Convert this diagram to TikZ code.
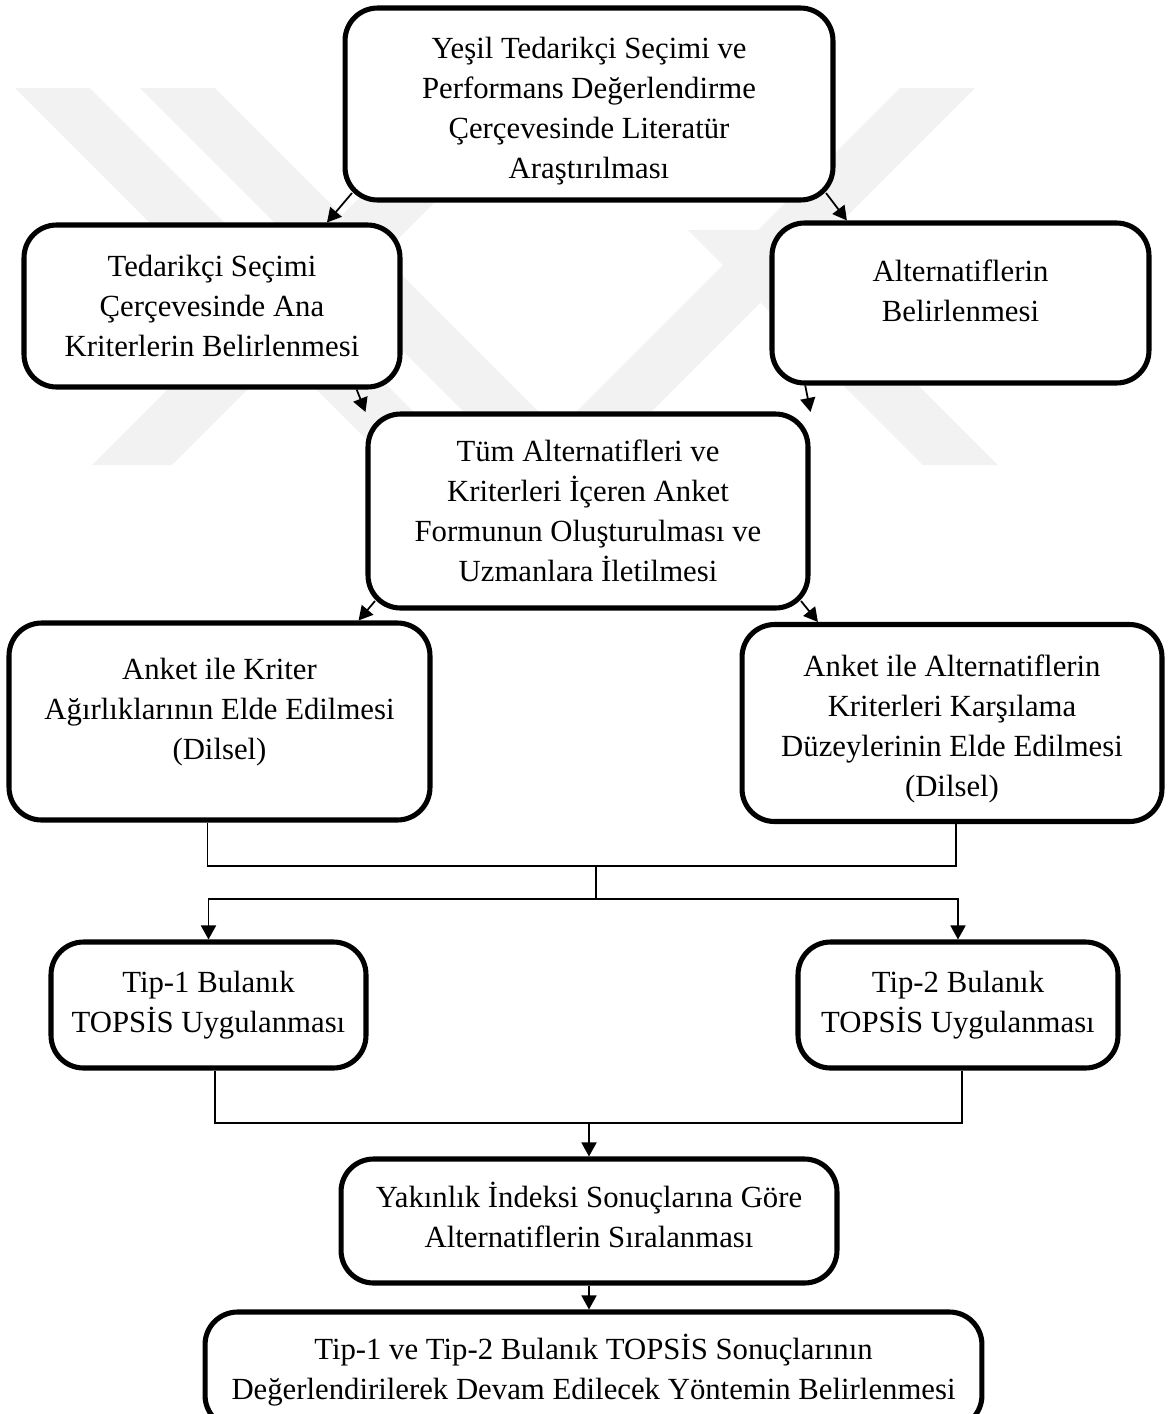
\documentclass[tikz,border=0pt]{standalone}
\usepackage{fontspec}
\setmainfont{Liberation Serif}
\usetikzlibrary{arrows.meta,calc}

\newcommand{\pad}[2]{\rule[-#1]{0pt}{#2}}

\begin{document}
\begin{tikzpicture}[x=0.02cm,y=-0.02cm,
  box/.style={draw,line width=2.9pt,rounded corners=0.65cm,align=center,inner sep=2pt,fill=white,font=\fontsize{17.5}{22.8}\selectfont},
  link/.style={line width=1pt},
  arr/.style={line width=1pt,-{Triangle[length=0.28cm,width=0.3cm]}},
  wm/.style={fill=black!5}]
  \useasboundingbox (0,0) rectangle (1171,1414);
  \begin{scope}
    \clip (0,88) rectangle (1171,465);
    \fill[wm] (15,88) -- (90,88) -- (467,465) -- (392,465) -- cycle;
    \fill[wm] (140,88) -- (215,88) -- (592,465) -- (517,465) -- cycle;
    \fill[wm] (469,88) -- (549,88) -- (172,465) -- (92,465) -- cycle;
    \fill[wm] (900,88) -- (975,88) -- (598,465) -- (523,465) -- cycle;
    \fill[wm] (688,230) -- (763,230) -- (998,465) -- (923,465) -- cycle;
  \end{scope}
  \node[box,minimum width=9.76cm,minimum height=3.84cm] (lit) at (589,104) {\pad{0cm}{0.71cm}Yeşil Tedarikçi Seçimi ve\\Performans Değerlendirme\\Çerçevesinde Literatür\\Araştırılması};
  \node[box,minimum width=7.52cm,minimum height=3.24cm] (crit) at (212,306) {Tedarikçi Seçimi\\Çerçevesinde Ana\\Kriterlerin Belirlenmesi};
  \node[box,minimum width=7.54cm,minimum height=3.2cm] (alt) at (960.5,303) {Alternatiflerin\\Belirlenmesi\\[-0.3cm]~};
  \node[box,minimum width=8.8cm,minimum height=3.88cm] (form) at (588,511) {Tüm Alternatifleri ve\\Kriterleri İçeren Anket\\Formunun Oluşturulması ve\\Uzmanlara İletilmesi};
  \node[box,minimum width=8.42cm,minimum height=3.94cm] (wgt) at (219.5,721.5) {Anket ile Kriter\\Ağırlıklarının Elde Edilmesi\\(Dilsel)\\[-0.3cm]~};
  \node[box,minimum width=8.4cm,minimum height=3.94cm] (lvl) at (952,723) {\pad{0cm}{0.67cm}Anket ile Alternatiflerin\\Kriterleri Karşılama\\Düzeylerinin Elde Edilmesi\\(Dilsel)};
  \node[box,minimum width=6.3cm,minimum height=2.52cm] (tip1) at (208.5,1005) {Tip-1 Bulanık\\TOPSİS Uygulanması};
  \node[box,minimum width=6.4cm,minimum height=2.52cm] (tip2) at (958,1005) {Tip-2 Bulanık\\TOPSİS Uygulanması};
  \node[box,minimum width=9.92cm,minimum height=2.48cm] (rank) at (589,1221) {Yakınlık İndeksi Sonuçlarına Göre\\Alternatiflerin Sıralanması\pad{0.24cm}{0cm}};
  \node[box,minimum width=15.54cm,minimum height=2.32cm] (final) at (593.5,1370) {Tip-1 ve Tip-2 Bulanık TOPSİS Sonuçlarının\\Değerlendirilerek Devam Edilecek Yöntemin Belirlenmesi};
  \coordinate (j1) at (596,866);
  \coordinate (j2) at (596,899);
  \coordinate (j3) at (589,1123);
  \draw[arr] ([shift={(9.5,-9.5)}]lit.south west) -- (crit.36);
  \draw[arr] ([shift={(-9.5,-9.5)}]lit.south east) -- (alt.144);
  \draw[arr] (crit.-30) -- (form.156);
  \draw[arr] (alt.208) -- (form.24.5);
  \draw[arr] ([shift={(9.5,-9.5)}]form.south west) -- (wgt.36);
  \draw[arr] ([shift={(-9.5,-9.5)}]form.south east) -- (lvl.143);
  \draw[link] ([xshift=-0.24cm]wgt.south) |- (j1) -| ([xshift=0.08cm]lvl.south);
  \draw[link] (j1) -- (j2);
  \draw[arr] (j2) -| (tip1.north);
  \draw[arr] (j2) -| (tip2.north);
  \draw[link] ([xshift=0.13cm]tip1.south) |- (j3) -| ([xshift=0.08cm]tip2.south);
  \draw[arr] (j3) -- (rank.north);
  \draw[arr] (rank.south) -- (rank.south |- final.north);
\end{tikzpicture}
\end{document}
